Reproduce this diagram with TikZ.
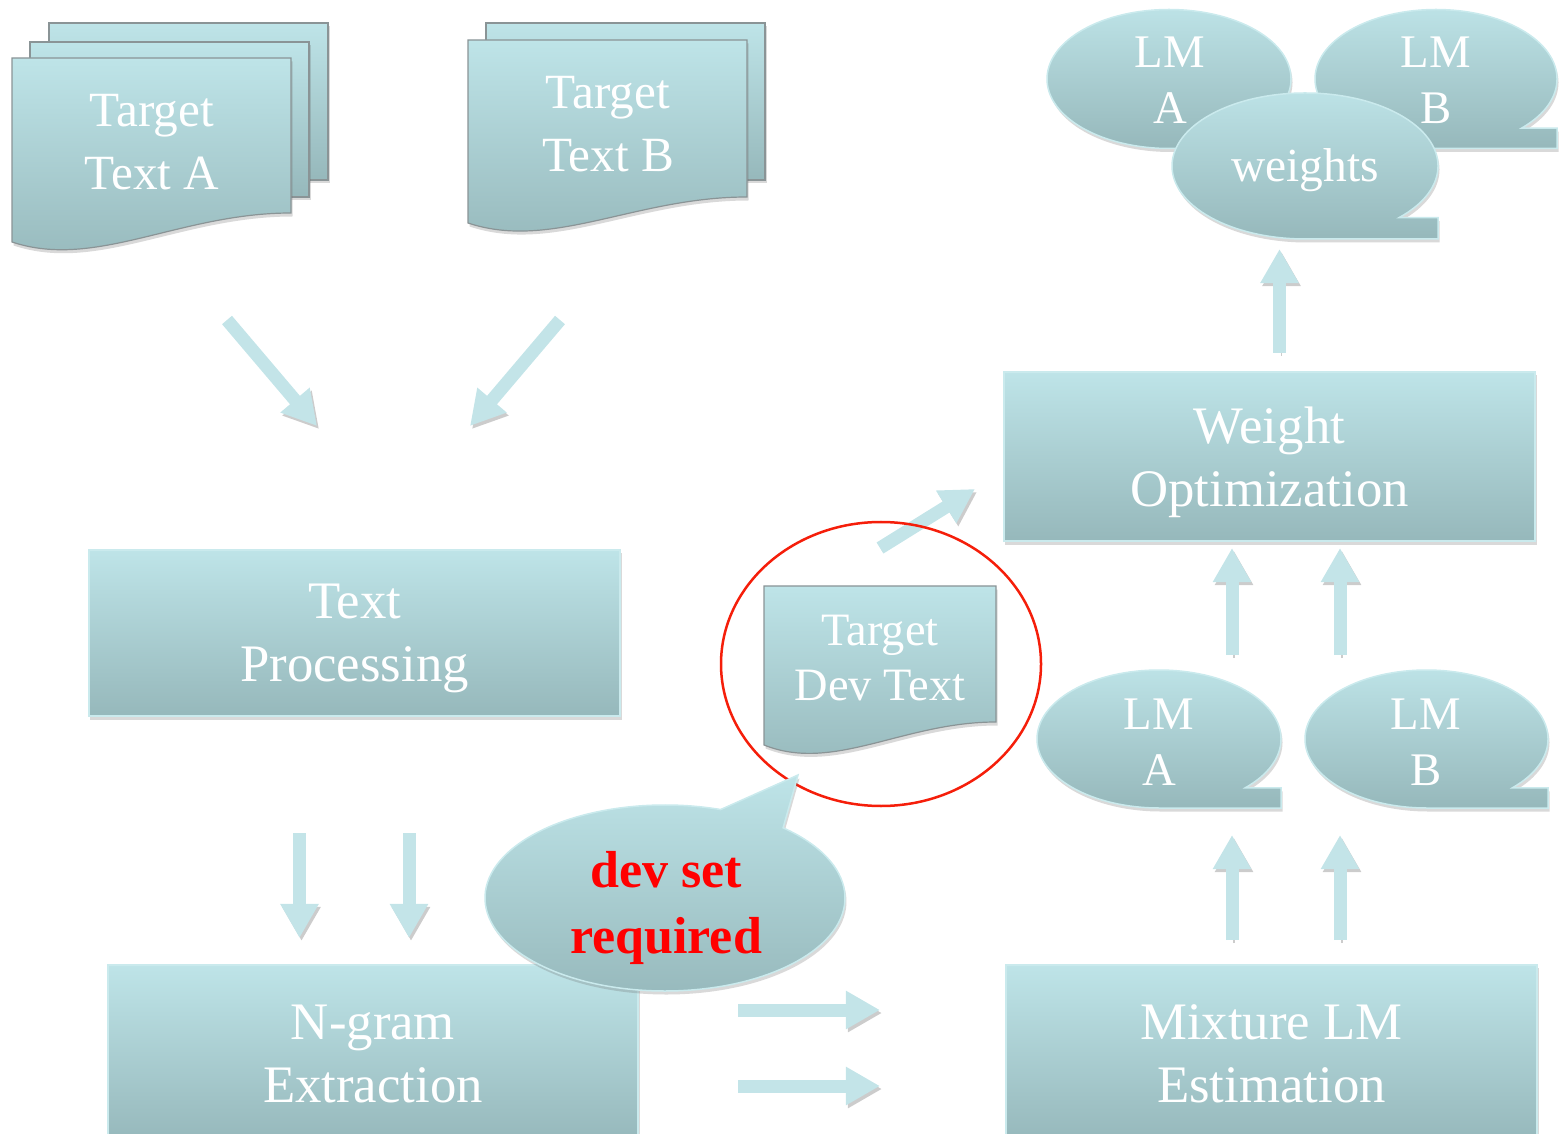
\documentclass[tikz,border=0pt]{standalone}
\usepackage{fontspec}
\setmainfont{Liberation Serif}
\usetikzlibrary{arrows.meta, shadows, positioning}

\definecolor{paleC}{RGB}{190,228,232}
\definecolor{darkC}{RGB}{150,184,187}
\definecolor{edgeC}{RGB}{202,234,237}
\definecolor{arrowC}{RGB}{195,228,232}
\definecolor{docedge}{RGB}{138,148,150}
\definecolor{ringred}{RGB}{245,30,10}

% document sheet with a wavy lower edge: x0, x1, top, left bottom, right bottom
\newcommand{\docsheet}[5]{%
  \path[sheet] (#1,#3) -- (#2,#3) -- (#2,#5)
    .. controls ({#1+0.6*(#2-#1)},#5) and ({#1+0.3*(#2-#1)},{#4+28}) .. (#1,#4) -- cycle;}
% speech bubble with the square tail at lower right: cx, cy, rx, ry
\newcommand{\speech}[4]{%
  \path[bubble] (#1,#2) ++(45:#3 and #4)
    arc[start angle=45, end angle=-270, x radius=#3, y radius=#4]
    -- ({#1+#3},{#2+#4}) -- ({#1+#3},{#2+0.7071*#4}) -- cycle;}

\begin{document}
\begin{tikzpicture}[x=0.01cm, y=-0.01cm,
  soft shadow/.style={drop shadow={shadow xshift=0.015cm, shadow yshift=-0.035cm, opacity=0.25, fill=black!60}},
  box/.style={draw=edgeC, line width=0.02cm, top color=paleC, bottom color=darkC, soft shadow,
    text=white, align=center, inner sep=0pt, text depth=0pt, font=\fontsize{15}{18}\selectfont},
  sheet/.style={draw=docedge, line width=0.012cm, top color=paleC, bottom color=darkC, soft shadow},
  bubble/.style={draw=edgeC, line width=0.015cm, top color=paleC, bottom color=darkC, soft shadow},
  inscr/.style={text=white, align=center, inner sep=0pt},
  docfont/.style={font=\fontsize{14}{17.9}\selectfont},
  lmfont/.style={font=\fontsize{13.3}{15.9}\selectfont},
  flow/.style={draw=arrowC, line width=0.13cm, -{Triangle[length=0.34cm, width=0.36cm]},
    preaction={draw=black, opacity=0.2, transform canvas={shift={(0.02cm,-0.03cm)}}}},
  ring/.style={draw=ringred, line width=0.025cm}]
\useasboundingbox (0,0) rectangle (1564,1134);

% source texts
\path[sheet] (49,23) rectangle (328,180);
\path[sheet] (30,42) rectangle (309,197);
\docsheet{12}{291}{58}{242}{213}
\node[inscr, docfont] (docA) at (152,142) {Target\\Text A};
\path[sheet] (486,23) rectangle (765,180);
\docsheet{468}{747}{40}{223}{197}
\node[inscr, docfont] (docB) at (608,124) {Target\\Text B};

\coordinate (inA1) at (227,320); \coordinate (inA2) at (317,426);
\coordinate (inB1) at (560,320); \coordinate (inB2) at (470,426);
\draw[flow] (inA1) -- (inA2);
\draw[flow] (inB1) -- (inB2);

% left column
\node[box, minimum width=5.31cm, minimum height=1.66cm] (proc) at (354.5,633) {Text\\Processing};
\coordinate (dn1a) at (299.5,833); \coordinate (dn1b) at (299.5,938);
\coordinate (dn2a) at (409,833);   \coordinate (dn2b) at (409,938);
\draw[flow] (dn1a) -- (dn1b);
\draw[flow] (dn2a) -- (dn2b);
\node[box, minimum width=5.30cm, minimum height=1.77cm] (ngram) at (373,1053.5) {N-gram\\Extraction};

\coordinate (rt1a) at (738,1010); \coordinate (rt1b) at (880,1010);
\coordinate (rt2a) at (738,1086); \coordinate (rt2b) at (880,1086);
\draw[flow] (rt1a) -- (rt1b);
\draw[flow] (rt2a) -- (rt2b);

% right column
\node[box, minimum width=5.31cm, minimum height=1.77cm] (mixture) at (1271.5,1053.5) {Mixture LM\\Estimation};
\foreach \x/\n in {1232/1, 1340/2} {
  \coordinate (upm\n a) at (\x,940); \coordinate (upm\n b) at (\x,835);
  \draw[flow] (upm\n a) -- (upm\n b);
}
\speech{1159}{739}{122}{69}
\node[inscr, lmfont] (lmA) at (1159,742) {LM\\A};
\speech{1426.5}{739}{121.5}{69}
\node[inscr, lmfont] (lmB) at (1426,742) {LM\\B};
\foreach \x/\n in {1232/1, 1340/2} {
  \coordinate (upl\n a) at (\x,655); \coordinate (upl\n b) at (\x,548);
  \draw[flow] (upl\n a) -- (upl\n b);
}
\node[box, minimum width=5.31cm, minimum height=1.69cm] (weightopt) at (1269.5,456.5) {Weight\\Optimization};
\coordinate (upw1) at (1279.5,353); \coordinate (upw2) at (1279.5,249);
\draw[flow] (upw1) -- (upw2);

% result
\speech{1169}{79}{122}{69.5}
\node[inscr, lmfont] (lmAtop) at (1170,80) {LM\\A};
\speech{1436}{79}{121}{69.5}
\node[inscr, lmfont] (lmBtop) at (1436,80) {LM\\B};
\speech{1305}{166}{133}{73}
\node[inscr, font=\fontsize{13.5}{16}\selectfont] (weights) at (1305,170) {weights};

% development set
\docsheet{764}{996}{586}{745}{722}
\node[inscr, font=\fontsize{13.2}{15.6}\selectfont] (devdoc) at (880,658) {Target\\Dev Text};
\coordinate (dv1) at (880,548); \coordinate (dv2) at (975,489);
\draw[flow] (dv1) -- (dv2);
\draw[ring] (881,664) ellipse [x radius=160, y radius=142];
\path[bubble] (665,898) ++(-49:180 and 93)
  arc[start angle=-49, end angle=288, x radius=180, y radius=93] -- (798,775) -- cycle;
\node[align=center, inner sep=0pt, text=red, font=\bfseries\fontsize{14.8}{18.5}\selectfont] (devset) at (666,908) {dev set\\required};
\end{tikzpicture}
\end{document}
